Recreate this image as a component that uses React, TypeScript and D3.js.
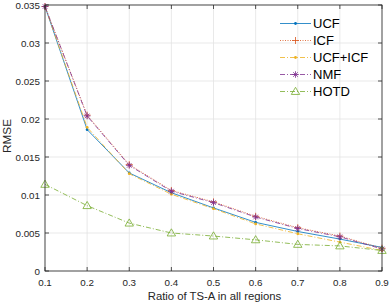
import React from "react";
import * as d3 from "d3";

const ratios = [0.1, 0.2, 0.3, 0.4, 0.5, 0.6, 0.7, 0.8, 0.9];
const ucf = [0.0348, 0.0186, 0.0129, 0.0103, 0.0083, 0.0064, 0.0052, 0.0042, 0.0031];
const icf = [0.0348, 0.0205, 0.0140, 0.0106, 0.0091, 0.0072, 0.0057, 0.0046, 0.0030];
const ucfIcf = [0.0348, 0.0189, 0.0128, 0.0101, 0.0082, 0.0062, 0.0049, 0.0038, 0.0027];
const nmf = [0.0348, 0.0204, 0.0139, 0.0105, 0.0090, 0.0071, 0.0056, 0.0045, 0.0029];
const hotd = [0.0114, 0.0086, 0.0063, 0.0050, 0.0046, 0.0041, 0.0035, 0.0033, 0.0027];
const xTicks = [0.1, 0.2, 0.3, 0.4, 0.5, 0.6, 0.7, 0.8, 0.9];
const yTicks = [0, 0.005, 0.01, 0.015, 0.02, 0.025, 0.03, 0.035];

type Marker = "dot" | "plus" | "star" | "tri";
const series: { name: string; values: number[]; color: string; dash: string; marker: Marker }[] = [
  { name: "UCF", values: ucf, color: "#0072BD", dash: "", marker: "dot" },
  { name: "ICF", values: icf, color: "#D95319", dash: "1,1.5", marker: "plus" },
  { name: "UCF+ICF", values: ucfIcf, color: "#EDB120", dash: "5,2,1,2", marker: "dot" },
  { name: "NMF", values: nmf, color: "#7E2F8E", dash: "5,2,1,2", marker: "star" },
  { name: "HOTD", values: hotd, color: "#77AC30", dash: "5,2,1,2", marker: "tri" },
];

const W = 390;
const H = 305;
const margin = { left: 45, right: 8, top: 5, bottom: 34 };
const font = "'Liberation Sans', Arial, sans-serif";

function MarkerShape({ type, x, y, color }: { type: Marker; x: number; y: number; color: string }) {
  if (type === "dot") return <circle cx={x} cy={y} r={1.4} fill={color} />;
  if (type === "plus")
    return (
      <path d={`M${x - 3.5},${y}H${x + 3.5}M${x},${y - 3.5}V${y + 3.5}`} stroke={color} strokeWidth={0.8} />
    );
  if (type === "star") {
    const r = 3.3;
    const d = r * 0.7;
    return (
      <path
        d={`M${x - r},${y}H${x + r}M${x},${y - r}V${y + r}M${x - d},${y - d}L${x + d},${y + d}M${x - d},${y + d}L${x + d},${y - d}`}
        stroke={color}
        strokeWidth={0.8}
      />
    );
  }
  const s = 4.2;
  return (
    <path
      d={`M${x},${y - s}L${x + s},${y + s * 0.7}L${x - s},${y + s * 0.7}Z`}
      fill="none"
      stroke={color}
      strokeWidth={0.8}
    />
  );
}

export default function App() {
  const x = d3.scaleLinear().domain([0.1, 0.9]).range([margin.left, W - margin.right]);
  const y = d3.scaleLinear().domain([0, 0.035]).range([H - margin.bottom, margin.top]);
  const line = d3
    .line<number>()
    .x((_, i) => x(ratios[i]))
    .y((d) => y(d));

  const x0 = x.range()[0];
  const x1 = x.range()[1];
  const y0 = y.range()[0];
  const y1 = y.range()[1];
  const axisColor = "#262626";
  const tickLen = 4;

  return (
    <div style={{ position: "absolute", left: 0, top: 0 }}>
      <svg width={W} height={H} style={{ display: "block", background: "#fff" }}>
        {/* grid */}
        {xTicks.map((t) => (
          <line key={"gx" + t} x1={x(t)} x2={x(t)} y1={y0} y2={y1} stroke="#e3e3e3" strokeWidth={0.8} />
        ))}
        {yTicks.map((t) => (
          <line key={"gy" + t} x1={x0} x2={x1} y1={y(t)} y2={y(t)} stroke="#e3e3e3" strokeWidth={0.8} />
        ))}

        {/* series */}
        {series.map((s) => (
          <g key={s.name}>
            <path d={line(s.values) || ""} fill="none" stroke={s.color} strokeWidth={0.8} strokeDasharray={s.dash} />
            {s.values.map((v, i) => (
              <MarkerShape key={i} type={s.marker} x={x(ratios[i])} y={y(v)} color={s.color} />
            ))}
          </g>
        ))}

        {/* box and ticks */}
        <rect x={x0} y={y1} width={x1 - x0} height={y0 - y1} fill="none" stroke={axisColor} strokeWidth={0.8} />
        {xTicks.map((t) => (
          <g key={"tx" + t}>
            <line x1={x(t)} x2={x(t)} y1={y0} y2={y0 - tickLen} stroke={axisColor} strokeWidth={0.8} />
            <line x1={x(t)} x2={x(t)} y1={y1} y2={y1 + tickLen} stroke={axisColor} strokeWidth={0.8} />
            <text x={x(t)} y={y0 + 15} textAnchor="middle" fontSize={9.8} fontFamily={font} fill={axisColor}>
              {t}
            </text>
          </g>
        ))}
        {yTicks.map((t) => (
          <g key={"ty" + t}>
            <line x1={x0} x2={x0 + tickLen} y1={y(t)} y2={y(t)} stroke={axisColor} strokeWidth={0.8} />
            <line x1={x1} x2={x1 - tickLen} y1={y(t)} y2={y(t)} stroke={axisColor} strokeWidth={0.8} />
            <text x={x0 - 5} y={y(t) + 3.5} textAnchor="end" fontSize={9.8} fontFamily={font} fill={axisColor}>
              {t}
            </text>
          </g>
        ))}

        {/* axis labels */}
        <text x={214.5} y={H - 5} textAnchor="middle" fontSize={11.3} fontFamily={font} fill={axisColor}>
          Ratio of TS-A in all regions
        </text>
        <text
          transform={`translate(11,136) rotate(-90)`}
          textAnchor="middle"
          fontSize={11.8}
          fontFamily={font}
          fill={axisColor}
        >
          RMSE
        </text>

        {/* legend */}
        {series.map((s, i) => {
          const ly = 23.5 + i * 17;
          return (
            <g key={"lg" + s.name}>
              <line x1={280} x2={311} y1={ly} y2={ly} stroke={s.color} strokeWidth={0.8} strokeDasharray={s.dash} />
              <MarkerShape type={s.marker} x={295.5} y={ly} color={s.color} />
              <text x={313} y={ly + 4.5} fontSize={13} fontFamily={font} fill="#000">
                {s.name}
              </text>
            </g>
          );
        })}
      </svg>
    </div>
  );
}
